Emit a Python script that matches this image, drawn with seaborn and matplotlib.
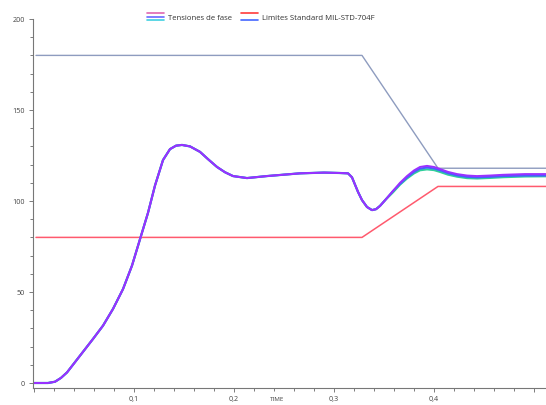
import numpy as np
import pandas as pd
import matplotlib
matplotlib.use("Agg")
import matplotlib.pyplot as plt
from matplotlib.lines import Line2D
from matplotlib.ticker import MultipleLocator, FuncFormatter
from matplotlib.legend_handler import HandlerBase
import seaborn as sns

# --- data (time in s, voltage in V) ---
t_phase = [0.0, 0.014, 0.021, 0.027, 0.033, 0.046, 0.059, 0.069, 0.079, 0.089,
           0.098, 0.106, 0.114, 0.121, 0.129, 0.136, 0.142, 0.148, 0.156, 0.166,
           0.174, 0.183, 0.191, 0.199, 0.213, 0.233, 0.266, 0.29, 0.305, 0.314,
           0.318, 0.321, 0.324, 0.328, 0.333, 0.338, 0.342, 0.346, 0.352, 0.359,
           0.366, 0.373, 0.380, 0.386, 0.393, 0.400, 0.406, 0.414, 0.423, 0.433,
           0.443, 0.456, 0.469, 0.491, 0.512]
v_phase_a = [0.0, 0.0, 0.7, 2.8, 5.8, 15.0, 24.2, 31.5, 40.7, 51.6,
             64.5, 79.0, 93.5, 108.5, 122.5, 128.5, 130.4, 130.8, 130.0, 127.0,
             123.0, 118.7, 115.8, 113.7, 112.6, 113.7, 115.2, 115.6, 115.4, 115.2,
             113.0, 109.0, 105.0, 100.5, 96.7, 95.0, 95.5, 97.3, 101.0, 105.5,
             110.0, 113.7, 116.8, 118.7, 119.3, 118.7, 117.6, 116.0, 114.8, 114.0,
             113.7, 114.0, 114.4, 114.8, 114.8]
v_phase_b = v_phase_a[:40] + [109.4, 113.0, 116.0, 117.8, 118.4, 117.9, 116.9,
                              115.3, 114.1, 113.3, 113.0, 113.3, 113.7, 114.0, 114.0]
v_phase_c = v_phase_a[:39] + [104.8, 109.0, 112.4, 115.2, 116.9, 117.4, 117.0, 116.0,
                              114.5, 113.4, 112.6, 112.4, 112.7, 113.1, 113.5, 113.6]

t_limits = [0.002, 0.328, 0.404, 0.512]
v_upper = [180, 180, 118, 118]
v_lower = [80, 80, 108, 108]

phase_colors = ["#2fcf9a", "#4a5cff", "#9b30ff"]
upper_color = "#8e9cbf"
lower_color = "#ff5a6e"

sns.set_style("ticks")
plt.rcParams['font.family'] = ['Open Sans', 'DejaVu Sans']

fig = plt.figure(figsize=(5.46, 4.06), dpi=100)
ax = fig.add_axes([33 / 546, 1 - 389 / 406, 1 - 33 / 546, 369 / 406])

lim_df = pd.DataFrame({"t": t_limits, "upper": v_upper, "lower": v_lower})
sns.lineplot(data=lim_df, x="t", y="upper", ax=ax, color=upper_color, lw=1.0,
             sort=False, estimator=None)
sns.lineplot(data=lim_df, x="t", y="lower", ax=ax, color=lower_color, lw=1.1,
             sort=False, estimator=None)

ph_df = pd.DataFrame({"t": t_phase, "c": v_phase_c, "b": v_phase_b, "a": v_phase_a})
for col, colr, w in zip(["c", "b", "a"], phase_colors, [1.6, 1.5, 1.4]):
    sns.lineplot(data=ph_df, x="t", y=col, ax=ax, color=colr, lw=w,
                 sort=False, estimator=None)

ax.set_xlim(-0.001, 0.512)
ax.set_ylim(-2.75, 200)
ax.xaxis.set_major_locator(MultipleLocator(0.1))
ax.xaxis.set_minor_locator(MultipleLocator(0.02))
ax.yaxis.set_major_locator(MultipleLocator(50))
ax.yaxis.set_minor_locator(MultipleLocator(10))
ax.xaxis.set_major_formatter(FuncFormatter(
    lambda v, p: "" if (abs(v) < 1e-9 or v > 0.45) else f"{v:.1f}".replace(".", ",")))
ax.yaxis.set_major_formatter(FuncFormatter(lambda v, p: f"{v:.0f}"))
ax.tick_params(which="both", direction="out", colors="#666666", labelsize=5.2,
               labelcolor="#444444", width=0.6)
ax.tick_params(which="major", length=3, pad=3)
ax.tick_params(which="minor", length=2)
ax.tick_params(axis="x", which="major", pad=2)
sns.despine(ax=ax)
for s in ["left", "bottom"]:
    ax.spines[s].set_color("#777777")
    ax.spines[s].set_linewidth(0.8)
ax.set_xlabel("TIME", fontsize=4.5, color="#444444", va="center")
ax.xaxis.set_label_coords((277 - 33) / 513, -(400 - 389) / 369)
ax.set_ylabel("")


class StackHandler(HandlerBase):
    def __init__(self, colors, **kw):
        super().__init__(**kw)
        self.colors = colors

    def create_artists(self, legend, orig_handle, xdescent, ydescent,
                       width, height, fontsize, trans):
        arts = []
        n = len(self.colors)
        for i, c in enumerate(self.colors):
            y = height * (0.9 - 0.8 * i / (n - 1)) - ydescent
            ln = Line2D([-xdescent, width - xdescent], [y, y], color=c, lw=1.2,
                        transform=trans)
            arts.append(ln)
        return arts


h1 = Line2D([], [])
h2 = Line2D([], [])
leg = fig.legend([h1, h2], ["Tensiones de fase", "Limites Standard MIL-STD-704F"],
                 handler_map={h1: StackHandler(["#e066b0", "#6a6aff", "#3fd0e0"]),
                              h2: StackHandler(["#ff3b3b", "#ffffff", "#4466ff"])},
                 loc="center", bbox_to_anchor=(261 / 546, 1 - 18 / 406), ncol=2,
                 frameon=False, fontsize=5.6, handlelength=2.2, handleheight=1.2,
                 columnspacing=1.2, handletextpad=0.5)
for txt in leg.get_texts():
    txt.set_color("#333333")

fig.savefig("out.png", dpi=100)
